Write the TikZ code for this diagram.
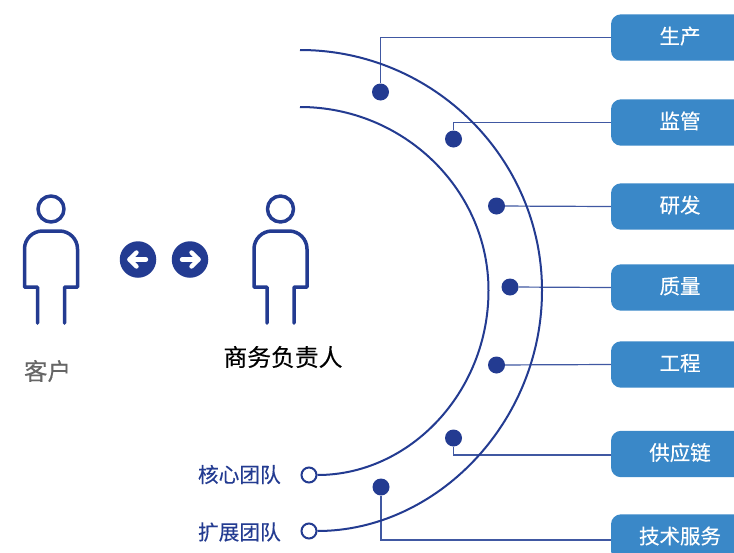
\documentclass[tikz,border=0pt]{standalone}
\usepackage{fontspec}
\setmainfont{Noto Sans CJK SC}[FakeBold=0.25]
\definecolor{navy}{HTML}{233B91}
\definecolor{boxblue}{HTML}{3A88C8}
\definecolor{linkblue}{HTML}{4058A2}
\tikzset{
  x=1pt,y=-1pt,
  dept/.style={fill=boxblue,text=white,rounded corners=10pt,minimum width=138pt,minimum height=46.4pt,inner sep=0pt,text height=12.6pt,text depth=0pt,font=\fontsize{20.5}{20.5}\selectfont},
  dotmark/.style={circle,fill=navy,minimum size=17pt,inner sep=0pt},
  ring/.style={circle,draw=navy,fill=white,line width=2pt,minimum size=15pt,inner sep=0pt},
  arcline/.style={draw=navy,line width=2pt},
  link/.style={draw=linkblue,line width=1.2pt},
  figure/.style={draw=navy,line width=3.5pt,line cap=round,line join=round},
  swap/.style={circle,fill=navy,minimum size=36.5pt,inner sep=0pt},
  swaparrow/.style={draw=white,line width=4.4pt,line cap=round,line join=round},
  teamlabel/.style={text=navy,inner sep=0pt,font=\fontsize{20.7}{20.7}\selectfont},
}
\newcommand{\personfig}[1]{%
  \draw[figure] (#1,209) circle (13);
  \draw[figure] (#1-13.5,323) -- (#1-13.5,287) -- (#1-26.5,287) -- (#1-26.5,249)
    arc[start angle=180,end angle=90,x radius=18,y radius=-18] -- (#1+8.5,231)
    arc[start angle=90,end angle=0,x radius=18,y radius=-18] -- (#1+26.5,287) -- (#1+13.5,287) -- (#1+13.5,323);
}
\begin{document}
\begin{tikzpicture}
\clip (0,0) rectangle (734,552);
\fill[white] (0,0) rectangle (734,552);
% departments
\node[dept] (sc) at (680,37.5) {生产};
\node[dept] (jg) at (680,122.5) {监管};
\node[dept] (yf) at (680,206.5) {研发};
\node[dept] (zl) at (680,287.5) {质量};
\node[dept] (gc) at (680,364.5) {工程};
\node[dept] (gy) at (680,454) {供应链};
\node[dept] (js) at (680,537.5) {技术服务};
% dots
\node[dotmark] (d1) at (380.5,92) {};
\node[dotmark] (d2) at (453.5,139) {};
\node[dotmark] (d3) at (496.5,206) {};
\node[dotmark] (d4) at (510,287) {};
\node[dotmark] (d5) at (496.5,365) {};
\node[dotmark] (d6) at (453.5,438) {};
\node[dotmark] (d7) at (381,487) {};
% connectors
\draw[link] (sc.west) -| (d1);
\draw[link] (jg.west) -| (d2);
\draw[link] (yf.west) -- (d3);
\draw[link] (zl.west) -- (d4);
\draw[link] (gc.west) -- (d5);
\draw[link] ([yshift=-1pt]gy.west) -| (d6);
\draw[link] ([yshift=-2.5pt]js.west) -| (d7);
% team rings
\node[ring] (core) at (309,475) {};
\node[ring] (ext) at (309,531) {};
\node[teamlabel,anchor=east] (corel) at (281,474.5) {核心团队};
\node[teamlabel,anchor=east] (extl) at (281,532) {扩展团队};
% arcs
\coordinate (outerstart) at (300,50);
\coordinate (innerstart) at (300,107);
\draw[arcline] (outerstart) .. controls (433,50) and (542,158) .. (542,290.5)
  .. controls (542,423) and (436,531) .. (ext.east);
\draw[arcline] (innerstart) .. controls (403,107) and (488.5,189) .. (488.5,290.5)
  .. controls (488.5,392) and (410,475) .. (core.east);
% people
\personfig{51}
\personfig{280.5}
\node[text=black!60,inner sep=0pt,font=\fontsize{23.5}{23.5}\selectfont] (kehu) at (47.5,371) {客户};
\node[text=black,inner sep=0pt,font=\fontsize{23.8}{23.8}\selectfont] (fuze) at (283,357) {商务负责人};
% exchange arrows
\node[swap] (left) at (138,259.5) {};
\node[swap] (right) at (190,259.5) {};
\draw[swaparrow] ([xshift=-8.5pt]left.center) -- ([xshift=8pt]left.center);
\draw[swaparrow] ([xshift=-1.5pt,yshift=-7pt]left.center) -- ([xshift=-8.5pt]left.center) -- ([xshift=-1.5pt,yshift=7pt]left.center);
\draw[swaparrow] ([xshift=-8pt]right.center) -- ([xshift=8.5pt]right.center);
\draw[swaparrow] ([xshift=1.5pt,yshift=-7pt]right.center) -- ([xshift=8.5pt]right.center) -- ([xshift=1.5pt,yshift=7pt]right.center);
\end{tikzpicture}
\end{document}
